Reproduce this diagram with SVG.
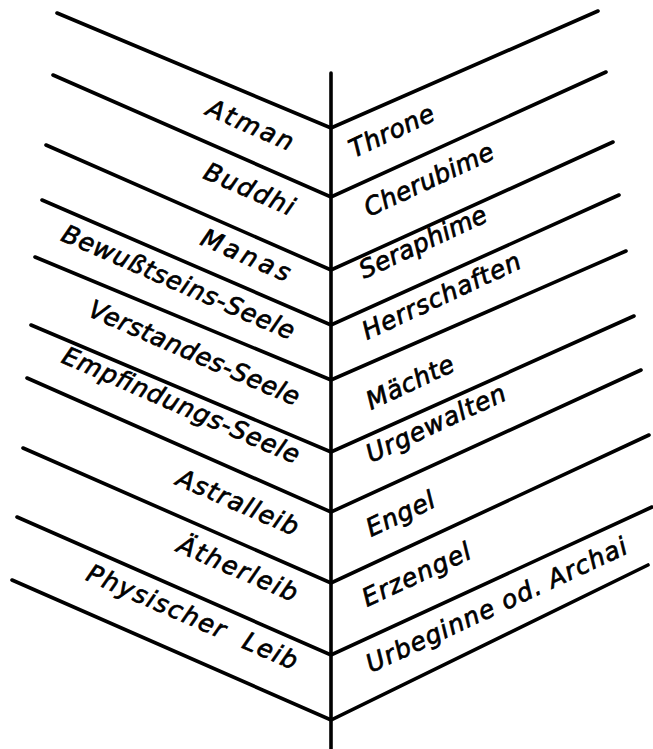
<svg xmlns="http://www.w3.org/2000/svg" width="653" height="749" viewBox="0 0 653 749">
<style>
.ln{fill:none;stroke:#000;stroke-width:3.6;stroke-linecap:round;stroke-linejoin:miter}
.t{font-family:"DejaVu Sans","Liberation Sans",sans-serif;font-style:oblique;font-size:25px;fill:#000;stroke:#000;stroke-width:0.7}
.l{text-anchor:end}
.r{text-anchor:start}
</style>
<rect width="653" height="749" fill="#fff"/>
<g id="connectors">
<line class="ln" x1="331" y1="73" x2="331" y2="749"/>
<polyline class="ln" points="57,13 331,128 598,11"/>
<polyline class="ln" points="53,75 331,197 606,72"/>
<polyline class="ln" points="46,145 331,270 613,142"/>
<polyline class="ln" points="42,200 331,325 619,195"/>
<polyline class="ln" points="35,257 331,380 626,251"/>
<polyline class="ln" points="31,325 331,452 634,316"/>
<polyline class="ln" points="27,378 331,512 641,370"/>
<polyline class="ln" points="23,448 331,583 649,435"/>
<polyline class="ln" points="17,517 331,655 652,507"/>
<polyline class="ln" points="12,580 331,720 648,565"/>
</g>
<g id="atman"><text class="t l" transform="translate(289,151) rotate(23.5)" textLength="92" lengthAdjust="spacing">Atman</text></g>
<g id="buddhi"><text class="t l" transform="translate(290,216) rotate(23.5)" textLength="96" lengthAdjust="spacing">Buddhi</text></g>
<g id="manas"><text class="t l" transform="translate(286,282) rotate(23.5)" textLength="95" lengthAdjust="spacing">Manas</text></g>
<g id="bewusstseins-seele"><text class="t l" transform="translate(290,340) rotate(23.5)" textLength="251" lengthAdjust="spacing">Bewußtseins-Seele</text></g>
<g id="verstandes-seele"><text class="t l" transform="translate(295,406) rotate(23.5)" textLength="227" lengthAdjust="spacing">Verstandes-Seele</text></g>
<g id="empfindungs-seele"><text class="t l" transform="translate(295,464) rotate(23.5)" textLength="256" lengthAdjust="spacing">Empfindungs-Seele</text></g>
<g id="astralleib"><text class="t l" transform="translate(294,536) rotate(23.5)" textLength="130" lengthAdjust="spacing">Astralleib</text></g>
<g id="aetherleib"><text class="t l" transform="translate(293,602) rotate(23.5)" textLength="128" lengthAdjust="spacing">Ätherleib</text></g>
<g id="physischer-leib"><text class="t l" transform="translate(293,670) rotate(23.5)" textLength="227" lengthAdjust="spacing" style="word-spacing:10px">Physischer Leib</text></g>
<g id="throne"><text class="t r" transform="translate(354,158) rotate(-25)" textLength="91" lengthAdjust="spacing">Throne</text></g>
<g id="cherubime"><text class="t r" transform="translate(369,217) rotate(-25)" textLength="140" lengthAdjust="spacing">Cherubime</text></g>
<g id="seraphime"><text class="t r" transform="translate(364,279) rotate(-25)" textLength="138" lengthAdjust="spacing">Seraphime</text></g>
<g id="herrschaften"><text class="t r" transform="translate(367,340) rotate(-25)" textLength="172" lengthAdjust="spacing">Herrschaften</text></g>
<g id="maechte"><text class="t r" transform="translate(371,410) rotate(-25)" textLength="94" lengthAdjust="spacing">Mächte</text></g>
<g id="urgewalten"><text class="t r" transform="translate(371,463) rotate(-25)" textLength="151" lengthAdjust="spacing">Urgewalten</text></g>
<g id="engel"><text class="t r" transform="translate(371,537) rotate(-25)" textLength="73" lengthAdjust="spacing">Engel</text></g>
<g id="erzengel"><text class="t r" transform="translate(367,607) rotate(-25)" textLength="117" lengthAdjust="spacing">Erzengel</text></g>
<g id="archai"><text class="t r" transform="translate(371,673) rotate(-25)" textLength="285" lengthAdjust="spacing">Urbeginne od. Archai</text></g>
</svg>
